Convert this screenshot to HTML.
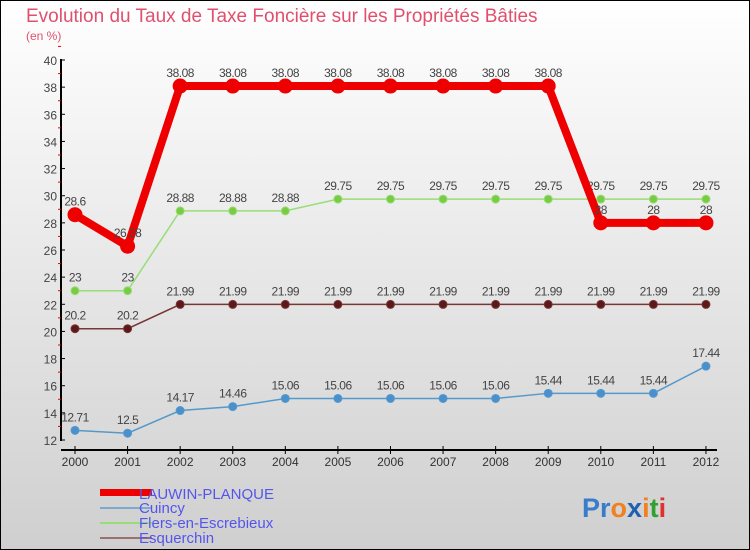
<!DOCTYPE html>
<html><head><meta charset="utf-8"><style>
body{margin:0}
#c{position:relative;width:750px;height:550px;background:linear-gradient(#fff,#cfcfcf);font-family:"Liberation Sans",sans-serif;overflow:hidden}
svg{position:absolute;left:0;top:0}
</style></head><body>
<div id="c">
<svg id="s" width="750" height="550">
<rect x="0.5" y="0.5" width="749" height="549" fill="none" stroke="#000"/>
<text x="26" y="22" font-size="19" fill="#e0506e">Evolution du Taux de Taxe Foncière sur les Propriétés Bâties</text>
<text x="26" y="40" font-size="12" fill="#e0506e">(en %)</text>
<g id="ax"></g><g id="series"></g>
<g font-size="15" fill="#5555ee">
<rect x="100" y="489" width="52" height="7" fill="#e00"/>
<text x="139" y="499">LAUWIN-PLANQUE</text>
<rect x="100" y="507" width="52" height="2" fill="#7aaad0"/>
<text x="139" y="513">Cuincy</text>
<rect x="100" y="522" width="52" height="2" fill="#99dd77"/>
<text x="139" y="528">Flers-en-Escrebieux</text>
<rect x="100" y="537" width="52" height="2" fill="#9a7070"/>
<text x="139" y="543">Esquerchin</text>
</g>
<text x="582" y="517" font-size="27" font-weight="bold"><tspan fill="#3a7ccc">Pr</tspan><tspan fill="#f08020">o</tspan><tspan fill="#2060b0">x</tspan><tspan fill="#f08020">i</tspan><tspan fill="#30a030">t</tspan><tspan fill="#e03030">i</tspan></text>
</svg>
</div>
<script>
const years=[2000,2001,2002,2003,2004,2005,2006,2007,2008,2009,2010,2011,2012];
const lauwin=[28.6,26.28,38.08,38.08,38.08,38.08,38.08,38.08,38.08,38.08,28,28,28];
const cuincy=[12.71,12.5,14.17,14.46,15.06,15.06,15.06,15.06,15.06,15.44,15.44,15.44,17.44];
const flers=[23,23,28.88,28.88,28.88,29.75,29.75,29.75,29.75,29.75,29.75,29.75,29.75];
const esquerchin=[20.2,20.2,21.99,21.99,21.99,21.99,21.99,21.99,21.99,21.99,21.99,21.99,21.99];
const yTicks=[12,14,16,18,20,22,24,26,28,30,32,34,36,38,40];
const NS='http://www.w3.org/2000/svg';
const X=i=>75+i*52.58, Y=v=>440-(v-12)*380/28;
function mk(t,a,p){const e=document.createElementNS(NS,t);for(const k in a)e.setAttribute(k,a[k]);p.appendChild(e);return e;}
const ax=document.getElementById('ax');
let e=mk('line',{x1:61,y1:59,x2:61,y2:441,stroke:'#000','stroke-width':2},ax);

e=mk('line',{x1:61,y1:450,x2:717,y2:450,stroke:'#000','stroke-width':2},ax);

yTicks.forEach(v=>{
  mk('line',{x1:61,y1:Y(v),x2:65,y2:Y(v),stroke:'#000'},ax);
  mk('line',{x1:58,y1:Y(v+1),x2:61,y2:Y(v+1),stroke:'#e00'},ax);
  const t=mk('text',{x:57,y:Y(v)+5,'font-size':12,'text-anchor':'end',fill:'#444'},ax);t.textContent=v;
  
});
years.forEach((y,i)=>{
  mk('line',{x1:X(i),y1:446,x2:X(i),y2:454,stroke:'#000'},ax);
  const t=mk('text',{x:X(i),y:466,'font-size':12,'text-anchor':'middle',fill:'#333'},ax);t.textContent=y;
  
});
const sg=document.getElementById('series');
function series(name,data,col,w,r,dcol){
  const g=mk('g',{},sg);
  
  const l=mk('polyline',{points:data.map((v,i)=>X(i)+','+Y(v)).join(' '),fill:'none',stroke:col,'stroke-width':w},g);
  
  data.forEach((v,i)=>{
    const c=mk('circle',{cx:X(i),cy:Y(v),r:r,fill:dcol,stroke:col,'stroke-width':1},g);
    
    const t=mk('text',{x:X(i),y:Y(v)-9,'font-size':12,'text-anchor':'middle',fill:'#444','letter-spacing':'-0.5'},g);
    t.textContent=v;
    
  });
}
series('cuincy',cuincy,'#5599cc',1.5,4,'#4a90cc');
series('esquerchin',esquerchin,'#7a3535',1.5,4,'#5a1a1a');
series('flers',flers,'#99dd77',1.5,4,'#77cc44');
series('lauwin',lauwin,'#e00',8,7,'#e00');
</script>
</body></html>
